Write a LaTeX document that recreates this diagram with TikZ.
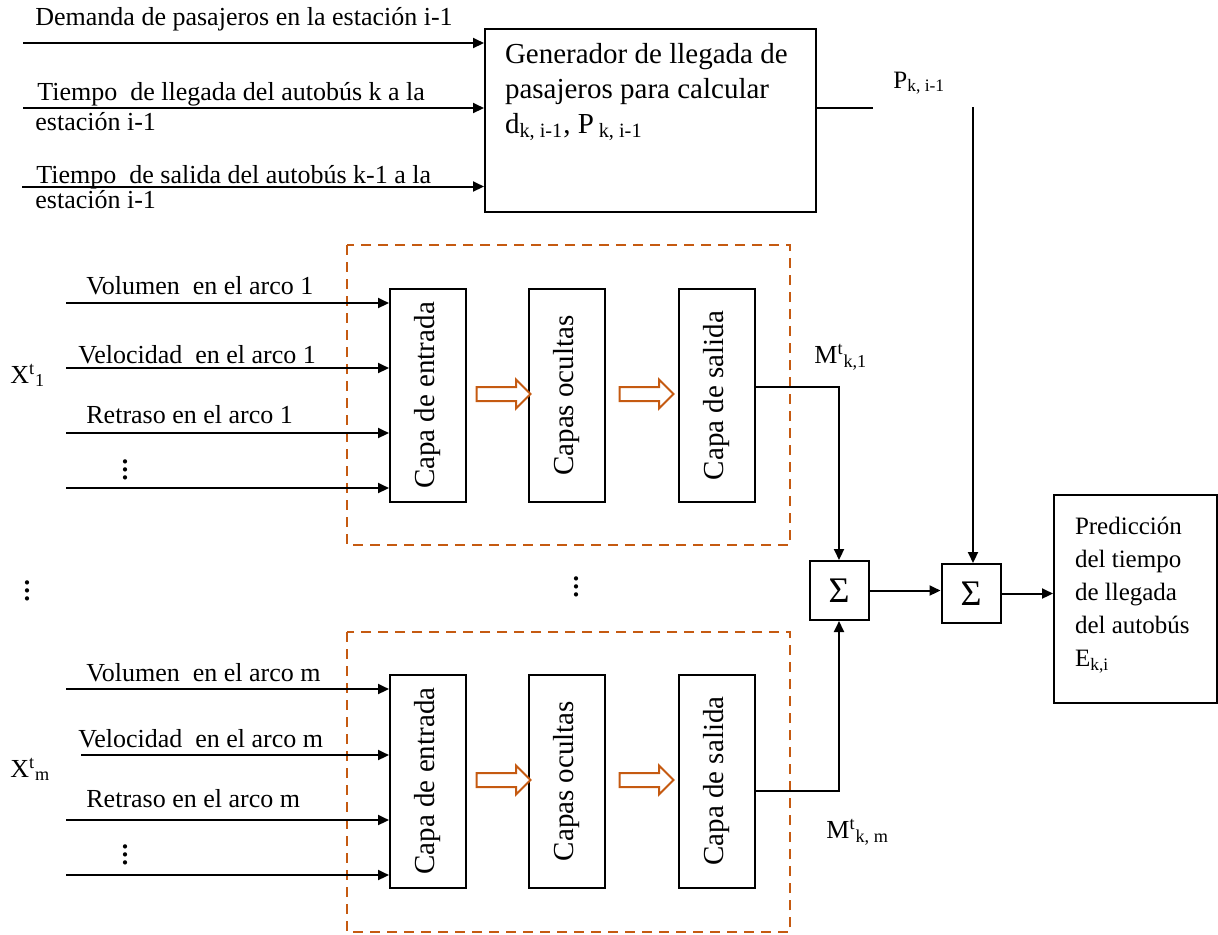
\documentclass[tikz,border=0pt]{standalone}
\usepackage{fontspec}
\setmainfont{Liberation Serif}
\usepackage{tikz}
\usetikzlibrary{arrows.meta,positioning,shapes.arrows}
\definecolor{nnorange}{HTML}{C55A11}

\begin{document}
\begin{tikzpicture}[x=0.5pt,y=-0.5pt,
  arr/.style={line width=1pt,-{Triangle[length=5.5pt,width=5pt]}},
  blk/.style={draw,line width=1pt,inner sep=0pt},
  layer/.style={blk,rotate=90,minimum width=106.5pt,minimum height=38pt,font=\fontsize{14.5}{17}\selectfont},
  hollow/.style={single arrow,draw=nnorange,line width=1pt,fill=white,inner xsep=0pt,inner ysep=3pt,minimum height=27pt,single arrow head extend=3.75pt},
  lbl/.style={inner sep=0pt,anchor=base west,font=\fontsize{13}{15}\selectfont},
  sym/.style={lbl,font=\fontsize{13}{15}\selectfont},
  dots/.style={inner sep=0pt,anchor=base,font=\fontsize{18}{20}\selectfont},
  sum/.style={blk,minimum size=29.5pt,font=\fontsize{18}{20}\selectfont},
  net/.style={draw=nnorange,line width=1.2pt,dash pattern=on 5pt off 3.5pt}]
\useasboundingbox (0,0) rectangle (1218,934);

\node[blk,anchor=north west,inner xsep=10pt,inner ysep=7pt,font=\fontsize{14.5}{17.5}\selectfont] (gen) at (484,28)
  {\parbox[t][77.5pt][t]{145.5pt}{Generador de llegada de\\pasajeros para calcular\\d\textsubscript{k, i-1}, P\,\textsubscript{k, i-1}}};
\node[lbl] (dem) at (35,25) {Demanda de pasajeros en la estación i-1};
\node[lbl] (lleg) at (37,100) {Tiempo~ de llegada del autobús k a la};
\node[lbl] (lleg2) at (35,130) {estación i-1};
\node[lbl] (sal) at (36,183) {Tiempo~ de salida del autobús k-1 a la};
\node[lbl] (sal2) at (35,208) {estación i-1};
\coordinate (t1) at (23,43);
\coordinate (t2) at (23,108);
\coordinate (t3) at (22,186.5);
\foreach \t in {t1,t2,t3}
  \draw[arr] (\t) -- (\t -| gen.west);
\node[lbl,font=\fontsize{12.5}{14}\selectfont] (pl) at (893,88) {P\textsubscript{k, i-1}};
\coordinate (pk) at (873,108);
\coordinate (pv) at (973,107);
\draw[line width=1pt] (gen.east |- pk) -- (pk);

\draw[net] (347,245) rectangle (790,545);
\draw[net] (347,632) rectangle (790,932);

\node[layer] (inA) at (428,395.5) {Capa de entrada};
\node[layer] (hidA) at (567,395.5) {Capas ocultas};
\node[layer] (outA) at (716.5,395.5) {Capa de salida};
\node[hollow] (hA1) at (500,394) {};
\node[hollow] (hA2) at (643,394) {};
\node[layer] (inB) at (428,781) {Capa de entrada};
\node[layer] (hidB) at (567,781) {Capas ocultas};
\node[layer] (outB) at (716.5,781) {Capa de salida};
\node[hollow] (hB1) at (500,780) {};
\node[hollow] (hB2) at (643,780) {};

\node[lbl] (volA) at (86,294) {Volumen~ en el arco 1};
\node[lbl] (velA) at (78,363) {Velocidad~ en el arco 1};
\node[lbl] (retA) at (86,423) {Retraso en el arco 1};
\node[dots] (dotsA) at (125,479) {$\vdots$};
\node[sym] (xA) at (10,383) {X\textsuperscript{t}\textsubscript{1}};
\foreach \y [count=\i] in {303,368,433,488} {
  \coordinate (a\i) at (66,\y);
  \draw[arr] (a\i) -- (a\i -| inA.north);
}
\node[lbl] (volB) at (86,681) {Volumen~ en el arco m};
\node[lbl] (velB) at (78,747) {Velocidad~ en el arco m};
\node[lbl] (retB) at (86,807) {Retraso en el arco m};
\node[dots] (dotsB) at (125,864) {$\vdots$};
\node[sym] (xB) at (10,777) {X\textsuperscript{t}\textsubscript{m}};
\foreach \y/\x [count=\i] in {689/66,755/81,820/66,875/66} {
  \coordinate (b\i) at (\x,\y);
  \draw[arr] (b\i) -- (b\i -| inB.north);
}
\node[dots] (dotsL) at (27,600) {$\vdots$};
\node[dots] (dotsM) at (576,596) {$\vdots$};

\node[sum] (sumA) at (839,590.5) {Σ};
\node[sum] (sumB) at (971,593.5) {Σ};
\node[blk,anchor=north west,inner xsep=10.5pt,inner ysep=11pt,font=\fontsize{12.5}{16.5}\selectfont] (pred) at (1053,494)
  {\parbox[t][82pt][t]{60.5pt}{Predicción\\del tiempo\\de llegada\\del autobús\\E\textsubscript{k,i}}};
\node[sym] (mA) at (814,363) {M\textsuperscript{t}\textsubscript{k,1}};
\node[sym] (mB) at (826,838) {M\textsuperscript{t}\textsubscript{k, m}};
\coordinate (oA) at (0,387);
\coordinate (oB) at (0,791);
\draw[arr] (outA.south |- oA) -| (sumA.north);
\draw[arr] (outB.south |- oB) -| (sumA.south);
\draw[arr] (pv) -- (pv |- sumB.north);
\draw[arr] (sumA.east) -- (sumA.east -| sumB.west);
\draw[arr] (sumB.east) -- (sumB.east -| pred.west);
\end{tikzpicture}
\end{document}
